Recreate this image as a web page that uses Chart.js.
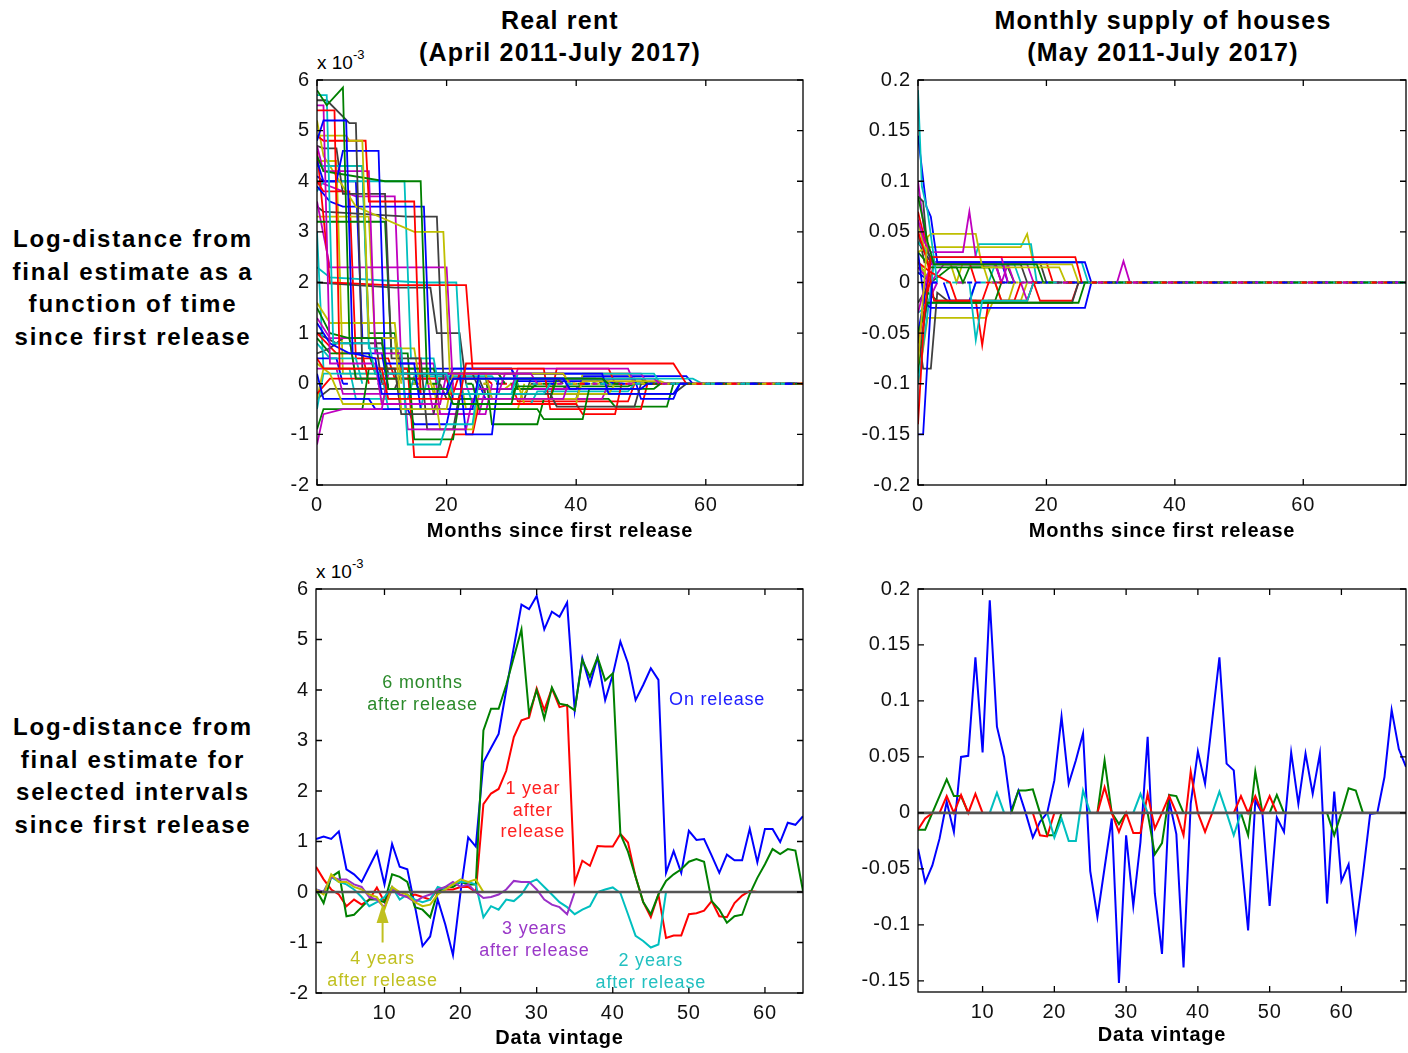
<!DOCTYPE html>
<html>
<head>
<meta charset="utf-8">
<script src="https://cdn.jsdelivr.net/npm/chart.js@4.4.0/dist/chart.umd.min.js"></script>
<style>
  body { margin: 0; width: 1408px; height: 1053px; background: #fff; position: relative; overflow: hidden;
         font-family: "Liberation Sans", Arial, sans-serif; color: #000; }
  canvas { position: absolute; }
  .lbl { position: absolute; font-weight: bold; text-align: center; white-space: nowrap; }
  .title { font-size: 25px; line-height: 32px; letter-spacing: 1.2px; width: 500px; }
  .row { font-size: 24px; line-height: 32.7px; letter-spacing: 1.8px; width: 300px; }
  .exp { position: absolute; font-size: 19px; white-space: nowrap; }
  .exp sup { font-size: 13px; position: relative; top: -3px; }
</style>
</head>
<body>

<div class="lbl title" style="left:310px; top:4px">Real rent<br>(April 2011-July 2017)</div>
<div class="lbl title" style="left:913px; top:4px">Monthly supply of houses<br>(May 2011-July 2017)</div>

<div class="lbl row" style="left:-17px; top:223px">Log-distance from<br>final estimate as a<br>function of time<br>since first release</div>
<div class="lbl row" style="left:-17px; top:711px">Log-distance from<br>final estimate for<br>selected intervals<br>since first release</div>

<div class="exp" style="left:317px; top:50px">x 10<sup>-3</sup></div>
<div class="exp" style="left:316px; top:559px">x 10<sup>-3</sup></div>

<canvas id="rentPathsChart" width="576" height="489" style="left:237px; top:61px"></canvas>
<canvas id="supplyPathsChart" width="570" height="489" style="left:838px; top:61px"></canvas>
<canvas id="rentVintageChart" width="577" height="481" style="left:236px; top:570px"></canvas>
<canvas id="supplyVintageChart" width="570" height="481" style="left:838px; top:570px"></canvas>

<script>
// ===== Data: top row, one path per vintage, [months since first release, log-distance] =====
// real rent paths are in units of 1e-3
const lastMonth = 75;
const supplyLastMonth = 76;

const rentPaths = [
  // blue, green, red, cyan, magenta, yellow, gray (repeating)
  [[0,4.8],[1,5.2],[4.5,5.2],[5.5,0.6],[9,0.5],[10,-0.2],[20,-0.2],[21,0.1],[38,0.1],[39,-0.1],[50,-0.1],[51,0]],
  [[0,5.8],[1.5,5.5],[4,5.85],[5,0.9],[10,0.9],[11,-0.1],[20,-0.1],[21,-0.4],[30,-0.4],[31,0.1],[44,0.1],[45,0]],
  [[0,5.4],[2.7,5.4],[3.5,0.3],[10,0.3],[11,-0.3],[22,-0.3],[23,0.4],[55,0.4],[57,0]],
  [[0,5.7],[1.5,5.7],[2.5,0.8],[8,0.8],[9,0.2],[20,0.2],[21,-0.2],[35,-0.2],[36,0]],
  [[0,5.5],[1,5.5],[2,0.4],[9,0.4],[10,-0.4],[19,-0.4],[20,0.2],[33,0.2],[34,0]],
  [[0,4.9],[4.5,4.9],[5,4.8],[7,4.8],[8,0.9],[12,0.9],[13,-0.5],[20,-0.5],[21,0.2],[38,0.2],[39,0]],
  [[0,5.6],[1.5,5.6],[5,5.15],[6,5.15],[7,0.3],[12,0.3],[13,-0.6],[18,-0.6],[19,0.1],[37,0.1],[38,0]],

  [[0,4.4],[1,4.0],[3,4.0],[4,4.6],[9.5,4.6],[10.5,0.4],[15,0.4],[16,-0.5],[24,-0.5],[25,0.2],[44,0.2],[45,-0.2],[55,-0.2],[56,0]],
  [[0,4.5],[1,4.2],[10.5,4.0],[16,4.0],[17,0.0],[24,0],[25,-0.5],[34,-0.5],[35,-0.7],[41,-0.7],[42,-0.1],[52,-0.1],[53,0]],
  [[0,4.9],[1,4.8],[7.5,4.8],[8,3.6],[15,3.6],[16,-0.2],[21,-0.2],[22,0.2],[38,0.2],[39,0]],
  [[0,4.3],[2,4.3],[7,4.3],[8,0.7],[13,0.7],[14,-1.2],[19,-1.2],[20,-0.8],[24,-0.8],[25,0.1],[58,0.1],[59.5,0]],
  [[0,4.7],[1,4.2],[8,4.2],[9,0.6],[13,0.6],[14,-0.9],[23,-0.9],[24,-0.3],[38,-0.3],[39,0.1],[52,0.1],[53,0]],
  [[0,5.2],[1,4.5],[6,3.5],[15,3.0],[19.5,3.0],[20.5,0.2],[26,0.2],[27,-0.3],[40,-0.3],[41,0.05],[53,0.05],[54,0]],
  [[0,4.7],[1,4.65],[3,4.65],[4,3.75],[10.5,3.75],[11.5,0.5],[16,0.5],[17,-0.9],[21,-0.9],[22,-0.2],[36,-0.2],[37,-0.45],[49,-0.45],[50,0]],

  [[0,3.9],[2,3.6],[4,3.5],[16.5,3.5],[17.5,0.2],[22,0.2],[23,-1.0],[27,-1.0],[28,0.1],[49,0.1],[50,-0.3],[55,-0.3],[56,0]],
  [[0,3.2],[1,3.2],[10.5,3.2],[11.5,0.6],[14,0.6],[15,-1.1],[21,-1.1],[22,-0.3],[36,-0.3],[37,0.1],[50,0.1],[51,0]],
  [[0,4.6],[2,2.0],[11,1.95],[23,1.95],[24,0.3],[35,0.3],[36,-0.5],[50,-0.5],[51,0]],
  [[0,3.8],[1,4.0],[13.5,4.0],[14.5,0.5],[18,0.5],[19,-0.2],[30,-0.2],[31,0.2],[52,0.2],[53,0]],
  [[0,3.6],[2,2.3],[20,2.3],[21,-0.1],[30,-0.1],[31,0.3],[48,0.3],[49,0]],
  [[0,1.6],[2,1.2],[12,1.2],[13,0.0],[18,0.0],[19,-0.9],[24,-0.9],[25,-0.2],[45,-0.2],[46,0]],
  [[0,3.5],[1,3.4],[14,3.3],[18.5,3.3],[19.5,0.1],[25,0.1],[26,-0.2],[55,-0.2],[57,0]],

  [[0,1.2],[2,0.8],[5,0.6],[10,0.6],[11,-0.1],[20,-0.1],[21,0.3],[30,0.3],[31,0.05],[45,0.05],[46,0]],
  [[0,1.5],[2,1.0],[5,0.9],[6,0.1],[15,0.1],[16,-0.2],[30,-0.2],[31,-0.05],[48,-0.05],[49,0]],
  [[0,0.5],[1,0.3],[14,0.3],[15,-1.45],[20,-1.45],[21,-1.0],[24,-1.0],[25,-0.4],[40,-0.4],[41,-0.6],[46,-0.6],[47,0]],
  [[0,2.3],[2,2.1],[16,2.0],[21.5,2.0],[22.5,-0.3],[30,-0.3],[31,0]],
  [[0,-1.2],[1,-0.6],[4,-0.5],[10,-0.5],[11,0.2],[26,0.2],[27,-0.3],[44,-0.3],[45,0]],
  [[0,0.4],[2,0.2],[4,-0.4],[10,-0.4],[11,0.0],[31,0.0],[32,-0.4],[40,-0.4],[41,0.2],[48,0.2],[49,0]],
  [[0,2.0],[12,1.9],[17.5,1.9],[18.5,1.0],[22,1.0],[23,0]],

  [[0,0.2],[1,-0.3],[8,-0.3],[9,-0.5],[14,-0.5],[15,-0.8],[20,-0.8],[21,-0.2],[35,-0.2],[36,0]],
  [[0,-0.9],[1,-0.5],[7,-0.5],[8,0.3],[18,0.3],[19,-0.1],[33,-0.1],[34,0]],
  [[0,-0.2],[2,0.1],[20,0.1],[21,-0.3],[36,-0.3],[37,0.3],[45,0.3],[46,0]],
  [[0,0.8],[2,0.5],[6,0.5],[7,0.0],[23,0.0],[24,-0.4],[33,-0.4],[34,-0.15],[48,-0.15],[49,0]],
  [[0,1.3],[2,0.9],[5,0.9],[6,0.1],[17,0.1],[18,-0.6],[25,-0.6],[26,-0.1],[40,-0.1],[41,0]],
  [[0,-0.3],[1,0.3],[17,0.3],[18,-0.2],[32,-0.2],[33,0]],
  [[0,0.6],[2,0.7],[4,0.9],[9,0.9],[10,0.0],[19,0.0],[20,-0.3],[32,-0.3],[33,0.1],[43,0.1],[44,0]],

  [[0,4.1],[1,4.0],[6,4.0],[7,0.9],[12,0.9],[13,0.3],[30,0.3],[31,-0.1],[40,-0.1],[41,0]],
  [[0,0.9],[2,0.6],[8,0.6],[9,0.2],[26,0.2],[27,-0.8],[34,-0.8],[35,-0.3],[45,-0.3],[46,-0.45],[54,-0.45],[55,0]],
  [[0,1.0],[3,0.6],[7,0.6],[8,0.0],[30,0.0],[31,-0.35],[48,-0.35],[49,0]],
  [[0,-0.5],[1,0.2],[10,0.2],[11,-0.5],[16,-0.5],[17,0.1],[42,0.1],[43,0]],
  [[0,0.3],[3,0.3],[4,-0.2],[28,-0.2],[29,0.2],[50,0.2],[51,0]],
  [[0,3.3],[8,3.3],[9,0.7],[15,0.7],[16,-0.1],[29,-0.1],[30,0]],
  [[0,-0.3],[2,-0.1],[12,-0.1],[13,0.2],[24,0.2],[25,-0.1],[38,-0.1],[39,0]],

  [[0,0.5],[3,0.5],[4,0.0],[25,0.0],[26,-0.3],[40,-0.3],[41,0.15],[57,0.15],[58,0]],
  [[0,4.3],[7,4.3],[8,1.0],[12,1.0],[13,0.2],[28,0.2],[29,0]],
  [[0,4.0],[1,3.8],[5,3.8],[6,0.5],[11,0.5],[12,0.1],[26,0.1],[27,0]],
  [[0,3.0],[1,0.3],[5,0.3],[6,-0.3],[14,-0.3],[15,0.15],[27,0.15],[28,0]],
  [[0,4.0],[6,3.7],[12,3.7],[13,0.4],[18,0.4],[19,-0.6],[26,-0.6],[27,0]],
  [[0,4.4],[3,4.4],[4,0.2],[22,0.2],[23,-0.5],[31,-0.5],[32,0]],
  [[0,1.0],[3,0.8],[10,0.8],[11,0.2],[28,0.2],[29,0]]
];

const supplyPaths = [
  [[0,-0.15],[0.8,-0.15],[2.2,0]],
  [[0,0.085],[1.5,0.04],[2.5,0.018],[18.5,0.018],[19.5,0]],
  [[0,-0.14],[1,-0.03],[2,0.025],[24.5,0.025],[25.5,0]],
  [[0,0.19],[0.6,0.095],[1.5,0.07],[3,0],[8,0],[9,-0.057],[10,-0.018],[17,-0.018],[18,0]],
  [[0,0.062],[1,0.04],[2,0.03],[7,0.03],[8,0.07],[9,0.025],[13,0.025],[14,0]],
  [[0,-0.08],[1.5,0.045],[2,0.048],[9,0.048],[10,0.015],[22,0.015],[23,0]],
  [[0,0.085],[0.8,0.08],[1.5,0.03],[2.5,0.018],[16,0.018],[17,0]],

  [[0,0.145],[1.3,0.075],[2,0.065],[3,0.02],[26,0.02],[27,0]],
  [[0,-0.05],[1.5,-0.02],[25,-0.02],[26,0]],
  [[0,0.05],[1.5,0.02],[2.5,-0.018],[10,-0.018],[11,0]],
  [[0,0.04],[2,0.025],[8.9,0.025],[9.5,0.038],[17.6,0.038],[18.5,0]],
  [[0,-0.03],[2,0.02],[12,0.02],[13,0],[31,0],[32,0.021],[33,0]],
  [[0,0.03],[1.5,0.035],[16,0.035],[17,0.048],[18,0.018],[24,0.018],[25,0]],
  [[0,-0.05],[0.8,-0.085],[2,-0.085],[3,-0.01],[5,-0.02],[24,-0.02],[25,0]],

  [[0,0.03],[1,-0.02],[2,-0.025],[26,-0.025],[27,0]],
  [[0,0.03],[2,0.015],[6,0.015],[7,0],[8,0.015],[11,0.015],[12,0]],
  [[0,0.02],[2,0.01],[5,0],[6,-0.018],[9,-0.018],[10,-0.062],[11,-0.018],[17,-0.018],[18,0],[19,-0.018],[24,-0.018],[25,0]],
  [[0,-0.1],[1.5,-0.03],[2.5,0.02],[25.5,0.02],[26.5,0]],
  [[0,0.015],[2,0],[4,0.018],[12,0.018],[13,0],[14,0.018],[15,0]],
  [[0,-0.1],[1.5,-0.035],[10.6,-0.035],[11.6,-0.02],[14,-0.02],[15,0]],
  [[0,0.04],[2,0.02],[12,0.02],[13,0]],

  [[0,0.01],[2,0],[4,0],[5,-0.018],[8,-0.018],[9,0]],
  [[0,-0.09],[1.5,-0.01],[3,-0.018],[12,-0.018],[13,0]],
  [[0,-0.06],[1.5,-0.01],[2.5,0.02],[8,0.02],[9,0],[12,0],[13,-0.018],[15,-0.018],[16,0]],
  [[0,0.01],[2,0],[11,0],[12,0.018],[15,0.018],[16,0]],
  [[0,-0.07],[1.5,-0.02],[3,0],[16,0],[17,-0.018],[18,0]],
  [[0,0.02],[2,0],[12,0],[13,-0.018],[16,-0.018],[17,0]],
  [[0,-0.02],[2,0]],

  [[0,-0.05],[2,0.02],[13,0.02],[14,0]],
  [[0,0.02],[2,0],[5,0.015],[14,0.015],[15,0]],
  [[0,0.07],[1.5,0.03],[2.5,0.02],[20,0.02],[21,0]],
  [[0,-0.03],[2,-0.02],[8,-0.02],[9,0]],
  [[0,0.1],[1,0.05],[2,0.018],[17,0.018],[18,0]],
  [[0,0.06],[1.5,0.02],[5,0.02],[6,0],[7,0.02],[10,0.02],[11,0]],
  [[0,0.05],[1,0.02],[19,0.02],[20,0]]
];

// ===== Data: bottom row, by data vintage (vintage 1, 2, ...) =====
// real rent, units of 1e-3
const rentOnRelease = [1.05, 1.1, 1.05, 1.2, 0.45, 0.35, 0.2, 0.5, 0.8, 0.15,
  0.95, 0.5, 0.45, -0.28, -1.07, -0.88, -0.15, -0.65, -1.25, 0.0,
  1.08, 0.9, 2.57, 2.85, 3.13, 4.0, 4.85, 5.69, 5.6, 5.86,
  5.2, 5.55, 5.45, 5.73, 3.6, 4.63, 4.1, 4.65, 3.8, 4.3,
  4.96, 4.53, 3.8, 4.1, 4.43, 4.2, 0.38, 0.81, 0.38, 1.21,
  1.03, 1.05, 0.72, 0.38, 0.74, 0.63, 0.63, 1.25, 0.59, 1.25,
  1.25, 0.99, 1.37, 1.33, 1.5];
const rentSixMonths = [0.05, -0.22, 0.3, 0.4, -0.48, -0.45, -0.3, -0.15, -0.15, -0.2,
  0.35, 0.3, 0.2, -0.3, -0.35, -0.5, 0.0, 0.1, 0.1, 0.2,
  0.15, 0.15, 3.2, 3.63, 3.63, 4.1, 4.65, 5.2, 3.53, 4.0,
  3.43, 4.05, 3.73, 3.7, 3.6, 4.6, 4.26, 4.65, 4.19, 4.33,
  1.15, 0.8, 0.3, -0.2, -0.44, -0.05, 0.22, 0.35, 0.45, 0.6,
  0.65, 0.6, -0.18, -0.35, -0.61, -0.48, -0.45, -0.04, 0.28, 0.55,
  0.85, 0.75, 0.85, 0.82, 0.02];
const rentOneYear = [0.5, 0.25, 0.05, -0.05, -0.28, -0.15, -0.25, -0.15, 0.09, -0.2,
  0.1, -0.05, -0.1, -0.05, -0.1, -0.15, 0.05, 0.05, 0.05, 0.1,
  0.1, 0.0, 1.74, 1.95, 2.04, 2.4, 3.07, 3.4, 3.45, 4.03,
  3.6, 4.03, 3.66, 3.7, 0.19, 0.62, 0.52, 0.91, 0.9, 0.9,
  1.15, 0.98, 0.3, -0.2, -0.5, -0.05, -0.91, -0.86, -0.86, -0.44,
  -0.42, -0.37, -0.18, -0.48, -0.5, -0.22, -0.07, 0.02, 0.0];
const rentTwoYears = [0.05, 0.0, 0.3, 0.2, 0.15, 0.05, -0.1, -0.28, -0.2, -0.1,
  0.1, -0.15, -0.05, -0.15, -0.2, -0.15, 0.1, 0.05, 0.15, 0.2,
  0.2, 0.15, -0.5, -0.28, -0.35, -0.15, -0.18, -0.05, 0.18, 0.25,
  0.1, -0.05, -0.2, -0.3, -0.44, -0.35, -0.28, 0.0, 0.05, 0.09,
  -0.02, -0.44, -0.87, -0.97, -1.1, -1.04, 0.0];
const rentThreeYears = [0.05, 0.0, 0.3, 0.25, 0.25, 0.15, 0.1, -0.1, -0.15, -0.3,
  0.05, -0.05, -0.1, -0.2, -0.1, -0.05, 0.05, 0.1, 0.2, 0.1,
  0.15, 0.0, -0.12, -0.1, -0.05, 0.05, 0.22, 0.2, 0.2, 0.05,
  -0.15, -0.25, -0.3, -0.44, 0.0];
const rentFourYears = [0.05, -0.05, 0.35, 0.2, 0.2, 0.1, 0.05, -0.05, -0.1, -0.34,
  0.1, 0.0, -0.05, -0.2, -0.28, -0.25, -0.05, 0.05, 0.15, 0.25,
  0.2, 0.25, 0.0];

// monthly supply of houses
const supplyOnRelease = [-0.032, -0.062, -0.047, -0.023, 0.01, -0.017, 0.05, 0.051, 0.139, 0.054,
  0.19, 0.077, 0.05, 0.002, 0.02, 0.0, -0.022, -0.008, 0.0, 0.029,
  0.086, 0.026, 0.047, 0.071, -0.052, -0.093, -0.049, -0.005, -0.152, -0.02,
  -0.083, -0.026, 0.068, -0.072, -0.126, 0.011, -0.019, -0.138, 0.008, 0.055,
  0.026, 0.083, 0.139, 0.044, 0.038, -0.037, -0.105, 0.011, -0.001, -0.083,
  -0.004, -0.017, 0.054, 0.008, 0.053, 0.017, 0.053, -0.081, 0.019, -0.061,
  -0.046, -0.104, -0.055, -0.001, 0.0, 0.032, 0.092, 0.057, 0.041];
const supplySixMonths = [-0.015, -0.015, 0.0, 0.015, 0.03, 0.015, 0.015, 0.0, 0.0, 0.0,
  0.0, 0.0, 0.0, 0.0, 0.02, 0.02, 0.021, 0.0, -0.02, -0.02,
  0.0, 0.0, 0.0, 0.0, 0.0, 0.0, 0.047, 0.0, -0.01, 0.0,
  0.0, 0.0, 0.0, -0.037, -0.027, 0.016, 0.015, 0.0, 0.0, 0.0,
  0.0, 0.0, 0.0, 0.0, 0.0, 0.0, -0.02, 0.037, 0.0, 0.0,
  0.016, 0.0, 0.0, 0.0, 0.0, 0.0, 0.0, 0.0, -0.02, 0.0,
  0.022, 0.02, 0.0];
const supplyOneYear = [-0.015, -0.005, 0.0, 0.0, 0.015, 0.0, 0.016, 0.0, 0.017, 0.0,
  0.0, 0.0, 0.0, 0.0, 0.0, 0.0, 0.0, -0.02, -0.021, 0.0,
  0.0, 0.0, 0.0, 0.0, 0.0, 0.0, 0.023, 0.0, -0.017, 0.0,
  -0.018, -0.018, 0.017, -0.014, 0.0, 0.015, 0.0, -0.02, 0.037, 0.0,
  -0.017, 0.0, 0.0, 0.0, 0.0, 0.015, 0.0, 0.015, 0.0, 0.015,
  0.0, 0.0];
const supplyTwoYears = [0.0, 0.0, 0.0, 0.0, 0.0, 0.0, 0.0, 0.0, 0.0, 0.0,
  0.0, 0.018, 0.0, 0.0, 0.0, 0.0, 0.0, 0.0, 0.0, -0.022,
  -0.005, -0.025, -0.025, 0.02, 0.0, 0.0, 0.0, 0.0, 0.0, 0.0,
  0.0, 0.017, 0.0, 0.0, 0.0, 0.0, 0.0, 0.0, 0.0, 0.0,
  0.0, 0.0, 0.019, 0.0, -0.02, 0.0];

// ===== Axis ticks =====
const monthTicks = [0, 20, 40, 60];
const rentTicks = [-2, -1, 0, 1, 2, 3, 4, 5, 6];
const supplyTicks = [-0.2, -0.15, -0.1, -0.05, 0, 0.05, 0.1, 0.15, 0.2];
const vintageTicks = [10, 20, 30, 40, 50, 60];
const supplyVintageTicks = [-0.15, -0.1, -0.05, 0, 0.05, 0.1, 0.15, 0.2];

// ===== Styling =====
const FONT = '"Liberation Sans", Arial, sans-serif';
const palette = ['#0000ff', '#008000', '#ff0000', '#00bfbf', '#bf00bf', '#bfbf00', '#404040'];
Chart.defaults.font.family = FONT;
Chart.defaults.color = '#000';

const rentNotes = [
  { lines: ['6 months', 'after release'], at: [15, 4.13], color: '#2b8a2b' },
  { lines: ['On release'], at: [47.4, 3.8], color: '#2020ff', align: 'left' },
  { lines: ['1 year', 'after', 'release'], at: [29.5, 2.03], color: '#ff2020' },
  { lines: ['3 years', 'after release'], at: [29.7, -0.74], color: '#9a38c8' },
  { lines: ['2 years', 'after release'], at: [45, -1.37], color: '#22c0c0' },
  { lines: ['4 years', 'after release'], at: [9.75, -1.33], color: '#c0c020' }
];

// MATLAB-like spacing for all canvas text
const spacing = {
  id: 'spacing',
  beforeDraw(chart) { chart.ctx.letterSpacing = '0.8px'; }
};

// box round the plot area with inward ticks on all four sides
const frame = {
  id: 'frame',
  afterDatasetsDraw(chart) {
    const { ctx, chartArea: a, scales: { x, y } } = chart;
    ctx.save();
    ctx.strokeStyle = '#000';
    ctx.lineWidth = 1.3;
    ctx.strokeRect(a.left, a.top, a.right - a.left, a.bottom - a.top);
    ctx.beginPath();
    x.ticks.forEach(t => {
      const px = x.getPixelForValue(t.value);
      ctx.moveTo(px, a.bottom); ctx.lineTo(px, a.bottom - 6);
      ctx.moveTo(px, a.top); ctx.lineTo(px, a.top + 6);
    });
    y.ticks.forEach(t => {
      const py = y.getPixelForValue(t.value);
      ctx.moveTo(a.left, py); ctx.lineTo(a.left + 6, py);
      ctx.moveTo(a.right, py); ctx.lineTo(a.right - 6, py);
    });
    ctx.stroke();
    ctx.restore();
  }
};

const notesPlugin = {
  id: 'notes',
  afterDatasetsDraw(chart) {
    const { ctx, scales: { x, y } } = chart;
    ctx.save();
    ctx.font = '18px ' + FONT;
    ctx.letterSpacing = '0.8px';
    ctx.textBaseline = 'middle';
    rentNotes.forEach(n => {
      ctx.fillStyle = n.color;
      ctx.textAlign = n.align || 'center';
      const px = x.getPixelForValue(n.at[0]);
      const py = y.getPixelForValue(n.at[1]);
      n.lines.forEach((line, i) => ctx.fillText(line, px, py + i * 21.5));
    });
    // arrow from "4 years" up to the curve
    const ax = x.getPixelForValue(9.75);
    const y0 = y.getPixelForValue(-1.0), y1 = y.getPixelForValue(-0.24);
    ctx.strokeStyle = '#c0c020';
    ctx.fillStyle = '#c0c020';
    ctx.lineWidth = 2;
    ctx.beginPath(); ctx.moveTo(ax, y0); ctx.lineTo(ax, y1 + 14); ctx.stroke();
    ctx.beginPath(); ctx.moveTo(ax, y1); ctx.lineTo(ax - 6, y1 + 19); ctx.lineTo(ax + 6, y1 + 19); ctx.closePath(); ctx.fill();
    ctx.restore();
  }
};

function pathDatasets(paths, endMonth, width) {
  return paths.map((path, i) => {
    const pts = path.map(([m, v]) => ({ x: m, y: v }));
    pts.push({ x: endMonth, y: 0 });
    const off = -(i % 7) * 5;
    return {
      data: pts,
      borderColor: palette[i % 7],
      borderWidth: width,
      segment: {
        borderDash: c => (c.p0.parsed.y === 0 && c.p1.parsed.y === 0) ? [5, 30] : undefined,
        borderDashOffset: () => off
      }
    };
  });
}

function vintageSeries(values, color, width) {
  return { data: values.map((v, i) => ({ x: i + 1, y: v })), borderColor: color, borderWidth: width };
}

function zeroLine(count) {
  return { data: [{ x: 1, y: 0 }, { x: count, y: 0 }], borderColor: '#555555', borderWidth: 2.6 };
}

function makePanel(id, o) {
  return new Chart(document.getElementById(id), {
    type: 'line',
    data: { datasets: o.datasets },
    options: {
      responsive: false,
      animation: false,
      events: [],
      layout: { padding: { left: 0, top: 10, right: o.padRight, bottom: 0 } },
      elements: { point: { radius: 0 }, line: { tension: 0, borderCapStyle: 'butt', borderJoinStyle: 'miter' } },
      plugins: { legend: { display: false }, tooltip: { enabled: false }, title: { display: false } },
      scales: {
        x: {
          type: 'linear', min: o.xMin, max: o.xMax,
          grid: { display: false, drawTicks: false }, border: { display: false },
          afterBuildTicks: s => { s.ticks = o.xTicks.map(v => ({ value: v })); },
          afterFit: s => { s.height = o.xH; },
          ticks: { font: { size: 20 }, color: '#111', padding: 8, maxRotation: 0, autoSkip: false },
          title: { display: true, text: o.xTitle, color: '#000',
                   font: { size: 20, weight: 'bold' }, padding: { top: 0, bottom: o.titlePad } }
        },
        y: {
          type: 'linear', min: o.yMin, max: o.yMax,
          grid: { display: false, drawTicks: false }, border: { display: false },
          afterBuildTicks: s => { s.ticks = o.yTicks.map(v => ({ value: v })); },
          afterFit: s => { s.width = 80; },
          ticks: { font: { size: 20 }, color: '#111', padding: 7, autoSkip: false,
                   callback: v => String(Math.round(v * 100) / 100) }
        }
      }
    },
    plugins: [spacing, frame].concat(o.plugins || [])
  });
}

// ===== Build the four panels =====
makePanel('rentPathsChart', {
  datasets: pathDatasets(rentPaths, lastMonth, 1.8),
  xMin: 0, xMax: lastMonth, yMin: -2, yMax: 6,
  xTicks: monthTicks, yTicks: rentTicks,
  xTitle: 'Months since first release', xH: 65, titlePad: 7, padRight: 10
});

makePanel('supplyPathsChart', {
  datasets: pathDatasets(supplyPaths, supplyLastMonth, 1.8),
  xMin: 0, xMax: supplyLastMonth, yMin: -0.2, yMax: 0.2,
  xTicks: monthTicks, yTicks: supplyTicks,
  xTitle: 'Months since first release', xH: 65, titlePad: 7, padRight: 2
});

makePanel('rentVintageChart', {
  datasets: [
    zeroLine(rentOnRelease.length),
    vintageSeries(rentFourYears, '#bfbf00', 2),
    vintageSeries(rentThreeYears, '#9a30c8', 2),
    vintageSeries(rentTwoYears, '#00bfbf', 2),
    vintageSeries(rentSixMonths, '#008000', 2),
    vintageSeries(rentOneYear, '#ff0000', 2),
    vintageSeries(rentOnRelease, '#0000ff', 2)
  ],
  xMin: 1, xMax: rentOnRelease.length, yMin: -2, yMax: 6,
  xTicks: vintageTicks, yTicks: rentTicks,
  xTitle: 'Data vintage', xH: 58, titlePad: 1, padRight: 10,
  plugins: [notesPlugin]
});

makePanel('supplyVintageChart', {
  datasets: [
    zeroLine(supplyOnRelease.length),
    vintageSeries(supplyTwoYears, '#00bfbf', 2),
    vintageSeries(supplyOneYear, '#ff0000', 2),
    vintageSeries(supplySixMonths, '#008000', 2),
    vintageSeries(supplyOnRelease, '#0000ff', 2)
  ],
  xMin: 1, xMax: supplyOnRelease.length, yMin: -0.16, yMax: 0.2,
  xTicks: vintageTicks, yTicks: supplyVintageTicks,
  xTitle: 'Data vintage', xH: 59, titlePad: 4, padRight: 2
});
</script>
</body>
</html>
